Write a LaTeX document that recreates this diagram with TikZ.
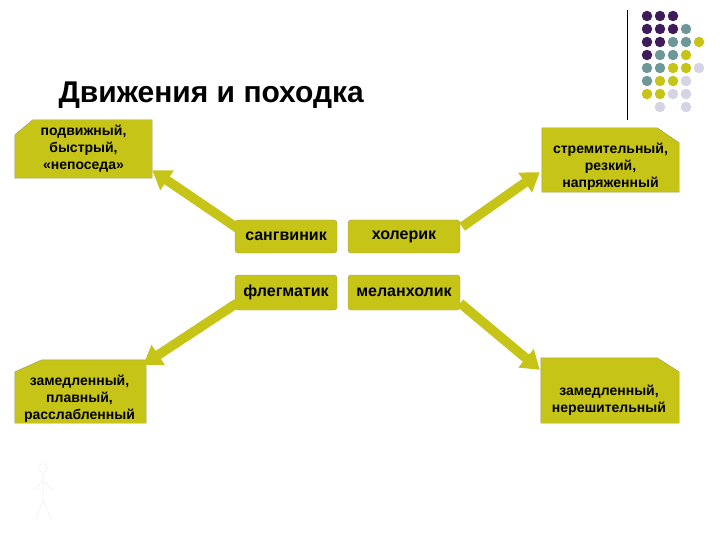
\documentclass[tikz,border=0pt]{standalone}
\usepackage{fontspec}
\setmainfont{Liberation Sans}
\usetikzlibrary{arrows.meta,calc,positioning,backgrounds}
\definecolor{olivebox}{RGB}{199,196,24}
\definecolor{oliveedge}{RGB}{160,158,100}
\definecolor{plum}{RGB}{62,28,92}
\definecolor{sea}{RGB}{108,152,152}
\definecolor{lilac}{RGB}{212,212,228}
\tikzset{
  temp/.style  = {draw=oliveedge, fill=olivebox, rounded corners=3pt, inner sep=0pt,
                  font=\bfseries\fontsize{16}{18}\selectfont},
  slot/.style  = {inner sep=0pt},
  trait/.style = {align=center, inner sep=0pt, font=\bfseries\fontsize{14}{17}\selectfont},
  card/.style  = {draw=oliveedge, fill=olivebox},
  fat/.style   = {-{Triangle[length=18pt,width=23pt]}, line width=9.5pt, olivebox},
  pip/.style   = {circle, inner sep=0pt, minimum size=10.5pt},
  ghost/.style = {gray!11, line width=0.6pt},
}
\begin{document}
\begin{tikzpicture}[x=1pt,y=-1pt]
  \useasboundingbox (0,0) rectangle (720,540);
  % heading
  \node[anchor=base west, font=\bfseries\fontsize{30}{34}\selectfont] (title) at (55,103)
      {Движения и походка};
  % corner ornament
  \coordinate (bartop) at (627,10);
  \coordinate (barbot) at (627,120);
  \draw[line width=1pt] (bartop) -- (barbot);
  \foreach \r/\row in {1/{plum,plum,plum}, 2/{plum,plum,plum,sea},
      3/{plum,plum,sea,sea,olivebox}, 4/{plum,sea,sea,olivebox},
      5/{sea,sea,olivebox,olivebox,lilac}, 6/{sea,olivebox,olivebox,lilac},
      7/{olivebox,olivebox,lilac,lilac}}
    \foreach \c [count=\i] in \row
      \node[pip, fill=\c] (dot-\r-\i) at (634+13*\i, 3+13*\r) {};
  \node[pip, fill=lilac] (dot-8-2) at (660,107) {};
  \node[pip, fill=lilac] (dot-8-4) at (686,107) {};
  % four temperaments
  \node[temp, minimum width=102pt, minimum height=33pt] (sang)  at (286,236.5) {сангвиник};
  \node[temp, minimum width=112pt, minimum height=33pt] (chol)  at (404,236.5) {холерик};
  \node[temp, minimum width=102pt, minimum height=35pt] (phleg) at (286,292.5) {флегматик};
  \node[temp, minimum width=112pt, minimum height=35pt] (mel)   at (404,292.5) {меланхолик};
  % descriptions
  \node[slot, minimum width=137pt, minimum height=58pt] (tl) at (83.5,149) {};
  \node[slot, minimum width=137pt, minimum height=64pt] (tr) at (610.5,160) {};
  \node[slot, minimum width=131pt, minimum height=63pt] (bl) at (80.5,391.5) {};
  \node[slot, minimum width=138pt, minimum height=65pt] (br) at (610,390.5) {};
  \node[trait] (tl text) at (tl) {подвижный,\\быстрый,\\«непоседа»};
  \node[trait] (tr text) at ([shift={(0,7)}]tr) {стремительный,\\резкий,\\напряженный};
  \node[trait] (bl text) at ([shift={(-1,7.5)}]bl) {замедленный,\\плавный,\\расслабленный};
  \node[trait] (br text) at ([shift={(-1,9.5)}]br) {замедленный,\\нерешительный};
  \begin{scope}[on background layer]
    \filldraw[card] (tl.south west) -- ([shift={(0,15)}]tl.north west)
      -- ([shift={(18,0)}]tl.north west) -- (tl.north east) -- (tl.south east) -- cycle;
    \filldraw[card] (tr.south west) -- (tr.north west) -- ([shift={(-22,0)}]tr.north east)
      -- ([shift={(0,15)}]tr.north east) -- (tr.south east) -- cycle;
    \filldraw[card] (bl.south west) -- ([shift={(0,12)}]bl.north west)
      -- ([shift={(27,0)}]bl.north west) -- (bl.north east) -- (bl.south east) -- cycle;
    \filldraw[card] (br.south west) -- (br.north west) -- ([shift={(-22,0)}]br.north east)
      -- ([shift={(0,14)}]br.north east) -- (br.south east) -- cycle;
  \end{scope}
  % arrows out
  \draw[fat] ([shift={(5,10)}]sang.north west) -- ([shift={(0,-8)}]tl.south east);
  \draw[fat] ([shift={(2,7)}]chol.north east) -- ([shift={(-2,-20)}]tr.south west);
  \draw[fat] ([shift={(2,-7)}]phleg.south west) -- ([shift={(-3,5)}]bl.north east);
  \draw[fat] ([shift={(0,-7)}]mel.south east) -- ([shift={(-1,12)}]br.north west);
  % faint figure
  \node[circle, draw=gray!11, line width=0.6pt, minimum size=9pt, inner sep=0pt] (head) at (43,468) {};
  \coordinate (hip) at (43,500);
  \coordinate (lfoot) at (35,520);
  \coordinate (rfoot) at (52,520);
  \coordinate (lhand) at (33,490);
  \coordinate (rhand) at (53,490);
  \draw[ghost] (head.south) -- (hip) (lfoot) -- (hip) -- (rfoot);
  \draw[ghost] (lhand) -- ($(head.south)!0.3!(hip)$) -- (rhand);
\end{tikzpicture}
\end{document}
